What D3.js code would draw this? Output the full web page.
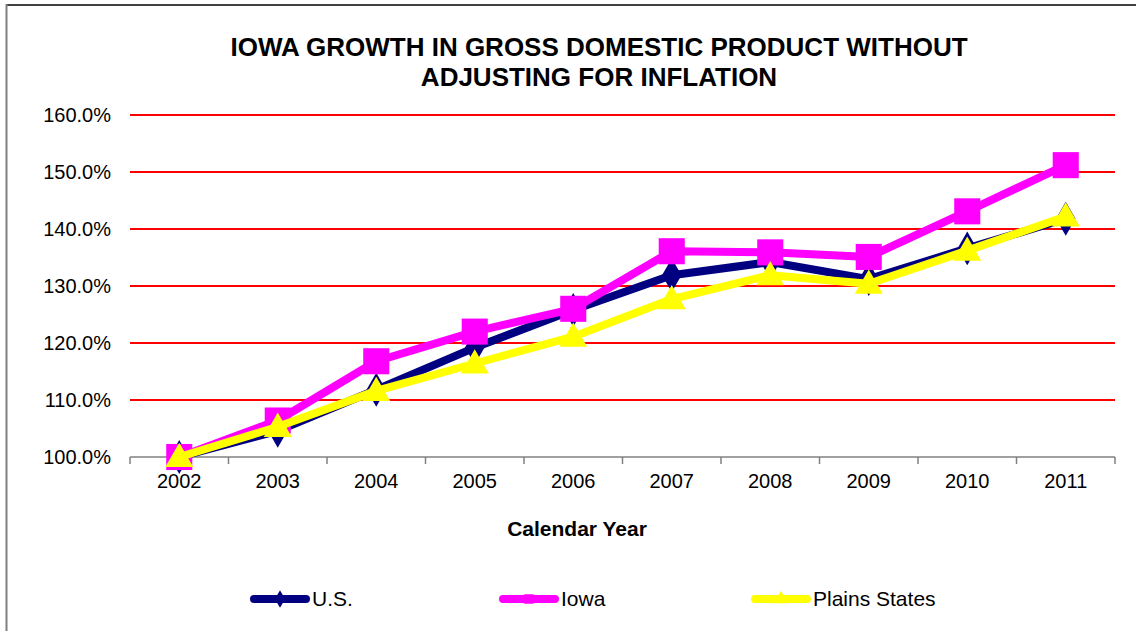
<!DOCTYPE html>
<html>
<head>
<meta charset="utf-8">
<script src="https://cdn.jsdelivr.net/npm/d3@7"></script>
<style>
  html, body { margin: 0; padding: 0; background: #fff; }
  svg { display: block; font-family: "Liberation Sans", Arial, sans-serif; }
</style>
</head>
<body>
<svg id="chart" width="1136" height="631"></svg>
<script>
const years = ["2002","2003","2004","2005","2006","2007","2008","2009","2010","2011"];
const usValues     = [100.0, 104.6, 111.8, 119.2, 125.8, 131.9, 134.2, 131.2, 136.6, 141.8];
const iowaValues   = [100.0, 106.4, 116.8, 122.0, 126.0, 136.1, 135.9, 135.1, 143.1, 151.2];
const plainsValues = [100.0, 105.3, 111.6, 116.4, 121.1, 127.7, 131.9, 130.4, 136.2, 142.2];
const yTicks = [100, 110, 120, 130, 140, 150, 160];
const seriesNames = ["U.S.", "Iowa", "Plains States"];
const titleLines = ["IOWA GROWTH IN GROSS DOMESTIC PRODUCT WITHOUT", "ADJUSTING FOR INFLATION"];
const xTitle = "Calendar Year";

const series = [
  { name: seriesNames[0], values: usValues, color: "#000080", marker: "diamond" },
  { name: seriesNames[1], values: iowaValues, color: "#FF00FF", marker: "square" },
  { name: seriesNames[2], values: plainsValues, color: "#FFFF00", marker: "triangle" }
];

const svg = d3.select("#chart");
const pLeft = 130, pRight = 1115, pTop = 115, pBottom = 457;

const x = d3.scaleBand().domain(years).range([pLeft, pRight]);
const y = d3.scaleLinear().domain([100, 160]).range([pBottom, pTop]);

// outer border (top and left visible)
svg.append("line").attr("x1", 6).attr("x2", 1136).attr("y1", 5).attr("y2", 5)
  .attr("stroke", "#404040").attr("stroke-width", 2);
svg.append("line").attr("x1", 6.5).attr("x2", 6.5).attr("y1", 4).attr("y2", 631)
  .attr("stroke", "#808080").attr("stroke-width", 2);

// title
svg.append("g").selectAll("text").data(titleLines).join("text")
  .attr("x", 599).attr("y", (d, i) => 56 + i * 30)
  .attr("text-anchor", "middle").attr("font-weight", "bold").attr("font-size", 26)
  .attr("fill", "#000").text(d => d);

// gridlines
svg.append("g").selectAll("line").data(yTicks.filter(t => t > 100)).join("line")
  .attr("x1", pLeft).attr("x2", pRight)
  .attr("y1", d => y(d)).attr("y2", d => y(d))
  .attr("stroke", "#FF0000").attr("stroke-width", 2);

// y axis labels
const yAxis = d3.axisLeft(y).tickValues(yTicks).tickSize(0).tickPadding(19)
  .tickFormat(d => d3.format(".1f")(d) + "%");
const yg = svg.append("g").attr("transform", `translate(${pLeft},0)`).call(yAxis);
yg.select(".domain").remove();
yg.selectAll("text").attr("font-size", 20).attr("fill", "#000")
  .attr("font-family", "Liberation Sans, Arial, sans-serif");

// x axis
const xAxis = d3.axisBottom(x).tickSize(0).tickPadding(17);
const xg = svg.append("g").attr("transform", `translate(0,${pBottom})`).call(xAxis);
xg.select(".domain").attr("stroke", "#808080").attr("stroke-width", 1.5)
  .attr("d", `M${pLeft},0H${pRight}`);
xg.selectAll("text").attr("font-size", 20).attr("fill", "#000")
  .attr("font-family", "Liberation Sans, Arial, sans-serif");
// tick marks between categories
const bounds = years.map(d => x(d)).concat([pRight]);
xg.append("g").selectAll("line").data(bounds).join("line")
  .attr("x1", d => d).attr("x2", d => d).attr("y1", 0).attr("y2", 7)
  .attr("stroke", "#808080").attr("stroke-width", 1.5);

// x title
svg.append("text").attr("x", 577).attr("y", 536).attr("text-anchor", "middle")
  .attr("font-weight", "bold").attr("font-size", 21).attr("fill", "#000").text(xTitle);

// series
const line = d3.line().x((d, i) => x(years[i]) + x.bandwidth() / 2).y(d => y(d));
const symbolFor = m => m === "diamond" ? d3.symbolDiamond : m === "square" ? d3.symbolSquare : d3.symbolTriangle;
const sizeFor = m => m === "diamond" ? 330 : m === "square" ? 680 : 340;

series.forEach(s => {
  const g = svg.append("g");
  g.append("path").datum(s.values).attr("d", line)
    .attr("fill", "none").attr("stroke", s.color).attr("stroke-width", 8)
    .attr("stroke-linejoin", "round");
  g.selectAll("path.m").data(s.values).join("path").attr("class", "m")
    .attr("transform", (d, i) => `translate(${x(years[i]) + x.bandwidth() / 2},${y(d) + (s.marker === "triangle" ? 2 : 0)})`)
    .attr("d", d3.symbol().type(symbolFor(s.marker)).size(sizeFor(s.marker)))
    .attr("fill", s.color);
});

// legend
const legendX = [251, 500, 752];
const lg = svg.append("g").selectAll("g").data(series).join("g")
  .attr("transform", (d, i) => `translate(${legendX[i]},599)`);
lg.append("line").attr("x1", 3).attr("x2", 55).attr("y1", 0).attr("y2", 0)
  .attr("stroke", d => d.color).attr("stroke-width", 8).attr("stroke-linecap", "round");
lg.append("path").attr("transform", "translate(29,0)")
  .attr("d", d => d3.symbol().type(symbolFor(d.marker)).size(90)())
  .attr("fill", d => d.color);
lg.append("text").attr("x", 61).attr("y", 7).attr("font-size", 21).attr("fill", "#000")
  .text(d => d.name);
</script>
</body>
</html>
